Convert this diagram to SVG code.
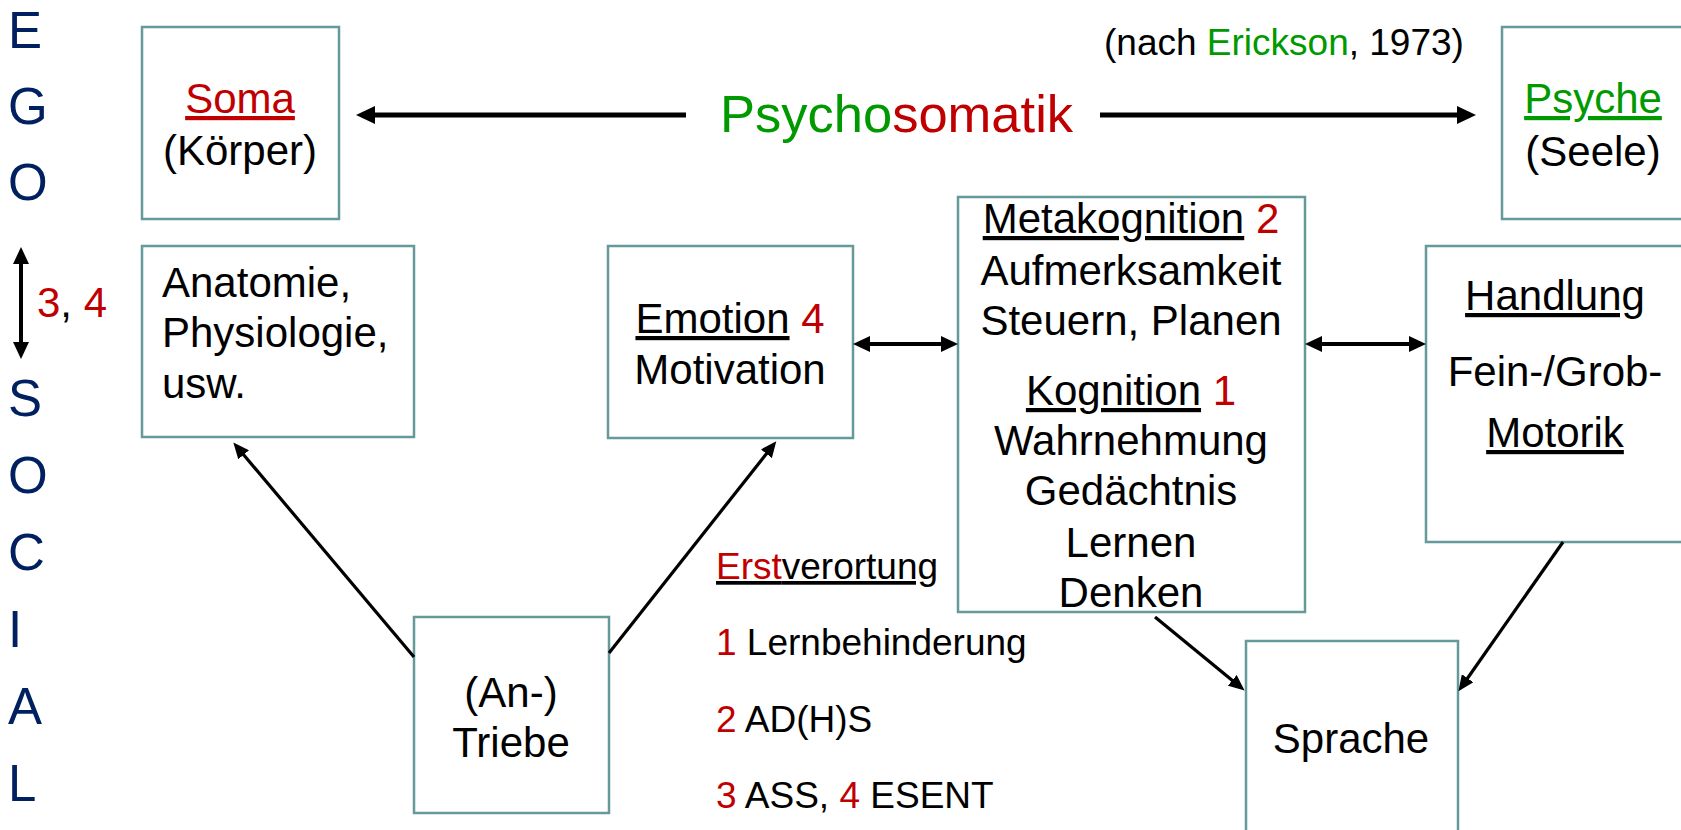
<svg xmlns="http://www.w3.org/2000/svg" width="1681" height="830" viewBox="0 0 1681 830">
<style>
text{font-family:"Liberation Sans",Arial,Helvetica,sans-serif;fill:#000}
.box{fill:#fff;stroke:#669999;stroke-width:2.5}
.t{font-size:42px}
.m{text-anchor:middle}
.s{font-size:37px}
.ego{font-size:51px;fill:#002060}
.r{fill:#C00000}
.g{fill:#009900}
.u{text-decoration:underline}
.big{stroke:#000;stroke-width:5;fill:none}
.mid{stroke:#000;stroke-width:4;fill:none}
.sm{stroke:#000;stroke-width:3.2;fill:none}
</style>
<defs>
<marker id="ahL" markerUnits="userSpaceOnUse" markerWidth="19" markerHeight="18" viewBox="0 0 19 18" refX="1" refY="9" orient="auto-start-reverse"><path d="M0,0 L19,9 L0,18 z" fill="#000"/></marker>
<marker id="ahM" markerUnits="userSpaceOnUse" markerWidth="17" markerHeight="16" viewBox="0 0 17 16" refX="1" refY="8" orient="auto-start-reverse"><path d="M0,0 L17,8 L0,16 z" fill="#000"/></marker>
<marker id="ahS" markerUnits="userSpaceOnUse" markerWidth="16" markerHeight="14" viewBox="0 0 16 14" refX="1" refY="7" orient="auto-start-reverse"><path d="M0,0 L16,7 L0,14 z" fill="#000"/></marker>
</defs>
<rect width="1681" height="830" fill="#fff"/>

<g id="ego-social">
<text class="ego" x="8" y="48">E</text>
<text class="ego" x="8" y="124">G</text>
<text class="ego" x="8" y="200">O</text>
<text class="ego" x="8" y="416">S</text>
<text class="ego" x="8" y="493">O</text>
<text class="ego" x="8" y="570">C</text>
<text class="ego" x="8" y="647">I</text>
<text class="ego" x="8" y="724">A</text>
<text class="ego" x="8" y="801">L</text>
<text class="t" x="37" y="317"><tspan class="r">3</tspan>, <tspan class="r">4</tspan></text>
</g>

<g id="soma">
<rect class="box" x="142" y="27" width="197" height="192"/>
<text class="t m" x="240" y="113"><tspan class="r u">Soma</tspan></text>
<text class="t m" x="240" y="165">(Körper)</text>
</g>

<g id="psychosomatik">
<text x="720" y="132" style="font-size:52.5px"><tspan class="g">Psycho</tspan><tspan class="r">somatik</tspan></text>
</g>

<g id="quelle">
<text class="s" x="1104" y="55">(nach <tspan class="g">Erickson</tspan>, 1973)</text>
</g>

<g id="psyche">
<rect class="box" x="1502" y="27" width="185" height="192"/>
<text class="t m" x="1593" y="113"><tspan class="g u">Psyche</tspan></text>
<text class="t m" x="1593" y="166">(Seele)</text>
</g>

<g id="anatomie">
<rect class="box" x="142" y="246" width="272" height="191"/>
<text class="t" x="162" y="297">Anatomie,</text>
<text class="t" x="162" y="347">Physiologie,</text>
<text class="t" x="162" y="398">usw.</text>
</g>

<g id="emotion">
<rect class="box" x="608" y="246" width="245" height="192"/>
<text class="t m" x="730" y="333"><tspan class="u">Emotion</tspan> <tspan class="r">4</tspan></text>
<text class="t m" x="730" y="384">Motivation</text>
</g>

<g id="kognition">
<rect class="box" x="958" y="197" width="347" height="415"/>
<text class="t m" x="1131" y="233"><tspan class="u">Metakognition</tspan> <tspan class="r">2</tspan></text>
<text class="t m" x="1131" y="285">Aufmerksamkeit</text>
<text class="t m" x="1131" y="335">Steuern, Planen</text>
<text class="t m" x="1131" y="405"><tspan class="u">Kognition</tspan> <tspan class="r">1</tspan></text>
<text class="t m" x="1131" y="455">Wahrnehmung</text>
<text class="t m" x="1131" y="505">Gedächtnis</text>
<text class="t m" x="1131" y="557">Lernen</text>
<text class="t m" x="1131" y="607">Denken</text>
</g>

<g id="handlung">
<rect class="box" x="1426" y="246" width="261" height="296"/>
<text class="t m" x="1555" y="310"><tspan class="u">Handlung</tspan></text>
<text class="t m" x="1555" y="386">Fein-/Grob-</text>
<text class="t m" x="1555" y="447"><tspan class="u">Motorik</tspan></text>
</g>

<g id="triebe">
<rect class="box" x="414" y="617" width="195" height="196"/>
<text class="t m" x="511" y="707">(An-)</text>
<text class="t m" x="511" y="757">Triebe</text>
</g>

<g id="sprache">
<rect class="box" x="1246" y="641" width="212" height="220"/>
<text class="t m" x="1351" y="753">Sprache</text>
</g>

<g id="legende">
<text class="s u" x="716" y="579"><tspan class="r">Erst</tspan>verortung</text>
<text class="s" x="716" y="655"><tspan class="r">1</tspan> Lernbehinderung</text>
<text class="s" x="716" y="732"><tspan class="r">2</tspan> AD(H)S</text>
<text class="s" x="716" y="808"><tspan class="r">3</tspan> ASS, <tspan class="r">4</tspan> ESENT</text>
</g>

<g id="connectors">
<line class="big" x1="686" y1="115" x2="374" y2="115" marker-end="url(#ahL)"/>
<line class="big" x1="1100" y1="115" x2="1458" y2="115" marker-end="url(#ahL)"/>
<line class="mid" x1="21" y1="263" x2="21" y2="343" marker-start="url(#ahM)" marker-end="url(#ahM)"/>
<line class="mid" x1="869" y1="344" x2="942" y2="344" marker-start="url(#ahM)" marker-end="url(#ahM)"/>
<line class="mid" x1="1321" y1="344" x2="1410" y2="344" marker-start="url(#ahM)" marker-end="url(#ahM)"/>
<line class="sm" x1="414" y1="657" x2="243" y2="454" marker-end="url(#ahS)"/>
<line class="sm" x1="609" y1="653" x2="767" y2="453" marker-end="url(#ahS)"/>
<line class="sm" x1="1155" y1="617" x2="1233" y2="681" marker-end="url(#ahS)"/>
<line class="sm" x1="1563" y1="542" x2="1467" y2="679" marker-end="url(#ahS)"/>
</g>
</svg>
